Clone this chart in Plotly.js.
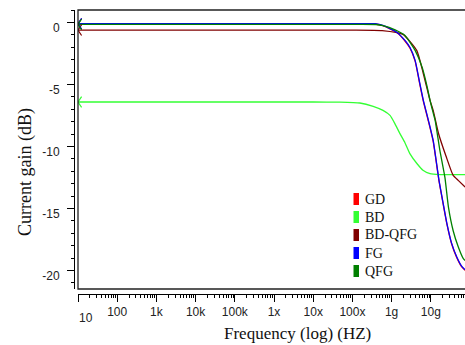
<!DOCTYPE html>
<html><head><meta charset="utf-8">
<script src="https://cdn.plot.ly/plotly-3.0.1.min.js"></script>
<style>html,body{margin:0;padding:0;background:#fff;}#chart{width:465px;height:345px;}</style>
</head><body><div id="chart"></div>
<script>
// ---- data ----
const seriesNames = ['GD', 'BD', 'BD-QFG', 'FG', 'QFG'];
const seriesColors = ['#ff0000', '#33ff33', '#800000', '#0000ff', '#008000'];

const gdFreq = [10, 1e4, 1e7, 1e8, 3.8e8, 6.0e8, 1.38e9, 2.19e9, 2.95e9, 3.98e9, 5.25e9, 6.46e9, 8.7e9, 1.15e10, 1.62e10, 2.0e10, 2.57e10, 3.39e10, 4.57e10, 6.17e10, 7.5e10];
const gdGain = [-0.12, -0.12, -0.12, -0.12, -0.13, -0.27, -0.84, -1.5, -2.08, -3.12, -5.0, -6.36, -7.98, -9.6, -12.8, -14.4, -16.25, -17.85, -18.95, -19.72, -20.0];

const bdFreq = [10, 1e4, 1e6, 1e7, 4.8e7, 1.55e8, 3.39e8, 6.03e8, 9.12e8, 1.23e9, 1.62e9, 2.19e9, 2.95e9, 4.47e9, 6.31e9, 9.55e9, 1.7e10, 7.5e10];
const bdGain = [-6.42, -6.42, -6.42, -6.42, -6.43, -6.5, -6.77, -7.1, -7.5, -8.2, -8.95, -9.7, -10.6, -11.4, -11.92, -12.2, -12.27, -12.27];

const bdqfgFreq = [10, 1e4, 1e7, 1e8, 5.75e8, 1.95e9, 4.37e9, 6.46e9, 9.55e9, 1.15e10, 1.58e10, 2.45e10, 3.72e10, 5.01e10, 7.5e10];
const bdqfgGain = [-0.62, -0.62, -0.62, -0.62, -0.66, -0.97, -2.26, -4.14, -6.29, -7.1, -8.98, -10.8, -12.34, -12.74, -13.28];

const fgFreq = [10, 1e4, 1e7, 1e8, 3.8e8, 6.0e8, 1.38e9, 2.19e9, 2.95e9, 3.98e9, 5.25e9, 6.46e9, 8.7e9, 1.15e10, 1.62e10, 2.0e10, 2.57e10, 3.39e10, 4.57e10, 6.17e10, 7.5e10];
const fgGain = [-0.1, -0.1, -0.1, -0.1, -0.11, -0.24, -0.81, -1.45, -2.02, -3.06, -4.92, -6.29, -7.9, -9.52, -12.74, -14.35, -16.2, -17.8, -18.9, -19.68, -19.95];

const qfgFreq = [10, 1e4, 1e7, 1e8, 3.98e8, 6.03e8, 1.23e9, 2.19e9, 3.98e9, 6.03e9, 8.13e9, 9.55e9, 1.15e10, 1.29e10, 1.7e10, 2.29e10, 2.82e10, 3.72e10, 5.01e10, 6.76e10, 7.5e10];
const qfgGain = [-0.16, -0.16, -0.16, -0.16, -0.17, -0.26, -0.6, -1.05, -2.26, -3.63, -5.24, -6.29, -7.3, -7.9, -10.3, -12.5, -14.9, -16.8, -18.1, -19.06, -19.2];

const xTickVals = [10, 100, 1e3, 1e4, 1e5, 1e6, 1e7, 1e8, 1e9, 1e10];
const xTickText = ['', '100', '1k', '10k', '100k', '1x', '10x', '100x', '1g', '10g'];
const firstXLabel = '10';
const yTickVals = [0, -5, -10, -15, -20];
const yTickText = ['0', '-5', '-10', '-15', '-20'];

const xTitle = 'Frequency (log) (HZ)';
const yTitle = 'Current gain (dB)';

// ---- build ----
const freqs = [gdFreq, bdFreq, bdqfgFreq, fgFreq, qfgFreq];
const gains = [gdGain, bdGain, bdqfgGain, fgGain, qfgGain];

const traces = [];
for (let i = 0; i < seriesNames.length; i++) {
  traces.push({
    type: 'scatter', mode: 'lines', name: seriesNames[i],
    x: freqs[i], y: gains[i],
    line: {color: seriesColors[i], width: 1.3, shape: 'spline', smoothing: 0.5},
    hoverinfo: 'skip', showlegend: false
  });
}
for (let i = 0; i < seriesNames.length; i++) {
  traces.push({
    type: 'scatter', mode: 'markers',
    x: [freqs[i][0]], y: [gains[i][0]],
    marker: {symbol: 'y-left', size: 9, color: seriesColors[i], line: {color: seriesColors[i], width: 1.2}},
    hoverinfo: 'skip', showlegend: false, cliponaxis: true
  });
}

// geometry (pixels in 465x345)
const L = 74, T = 10, B = 51, W = 465 - L, H = 345 - T - B;
const px2x = p => (p - L) / W;
const py2y = p => (345 - B - p) / H;

const annotations = [];
const shapes = [];

// frame
shapes.push({type: 'rect', xref: 'paper', yref: 'paper', x0: px2x(78), x1: px2x(475), y0: py2y(289), y1: py2y(10),
  line: {color: '#222', width: 1.3}, fillcolor: 'rgba(0,0,0,0)'});

// first x label (drawn lower, like the original)
annotations.push({xref: 'paper', yref: 'paper', x: px2x(85.5), y: py2y(318), text: firstXLabel, showarrow: false,
  xanchor: 'center', yanchor: 'middle', font: {family: 'Liberation Sans, Arial', size: 12, color: '#222'}});

// axis titles
annotations.push({xref: 'paper', yref: 'paper', x: px2x(297.5), y: py2y(333), text: xTitle, showarrow: false,
  xanchor: 'center', yanchor: 'middle', font: {family: 'Liberation Serif, Times New Roman', size: 17, color: '#111'}});
annotations.push({xref: 'paper', yref: 'paper', x: px2x(25), y: py2y(172), text: yTitle, showarrow: false, textangle: -90,
  xanchor: 'center', yanchor: 'middle', font: {family: 'Liberation Serif, Times New Roman', size: 18, color: '#111'}});

// legend
for (let i = 0; i < seriesNames.length; i++) {
  const cy = 199 + 18 * i;
  shapes.push({type: 'rect', xref: 'paper', yref: 'paper', x0: px2x(353.5), x1: px2x(359), y0: py2y(cy + 6), y1: py2y(cy - 6),
    line: {width: 0}, fillcolor: seriesColors[i]});
  annotations.push({xref: 'paper', yref: 'paper', x: px2x(363), y: py2y(cy), text: seriesNames[i], showarrow: false,
    xanchor: 'left', yanchor: 'middle', font: {family: 'Liberation Serif, Times New Roman', size: 14, color: '#111'}});
}

const layout = {
  width: 465, height: 345,
  margin: {l: L, r: 0, t: T, b: B, pad: 0},
  paper_bgcolor: '#fff', plot_bgcolor: '#fff',
  showlegend: false,
  xaxis: {
    type: 'log', range: [1, 1 + 387 / 39.2], domain: [px2x(78), 1], anchor: 'free', position: 0,
    showgrid: false, zeroline: false, showline: true, linecolor: '#000', linewidth: 1,
    ticks: 'outside', ticklen: 7, tickwidth: 1, tickcolor: '#000',
    tickmode: 'array', tickvals: xTickVals, ticktext: xTickText,
    tickfont: {family: 'Liberation Sans, Arial', size: 12, color: '#222'},
    minor: {ticks: 'outside', ticklen: 3, tickwidth: 1, tickcolor: '#000', tickmode: 'linear', dtick: 'D1', showgrid: false}
  },
  yaxis: {
    range: [-21.5, 1.0], domain: [py2y(289), 1], anchor: 'free', position: 0,
    showgrid: false, zeroline: false, showline: true, linecolor: '#000', linewidth: 1,
    ticks: 'outside', ticklen: 7, tickwidth: 1, tickcolor: '#000',
    tickmode: 'array', tickvals: yTickVals, ticktext: yTickText,
    ticklabelshift: 5, ticklabelstandoff: 5,
    tickfont: {family: 'Liberation Sans, Arial', size: 12, color: '#222'},
    minor: {ticks: 'outside', ticklen: 3, tickwidth: 1, tickcolor: '#000', tickmode: 'linear', tick0: 0, dtick: 1, showgrid: false}
  },
  shapes: shapes,
  annotations: annotations
};

Plotly.newPlot('chart', traces, layout, {staticPlot: true, displayModeBar: false});
</script>
</body></html>
